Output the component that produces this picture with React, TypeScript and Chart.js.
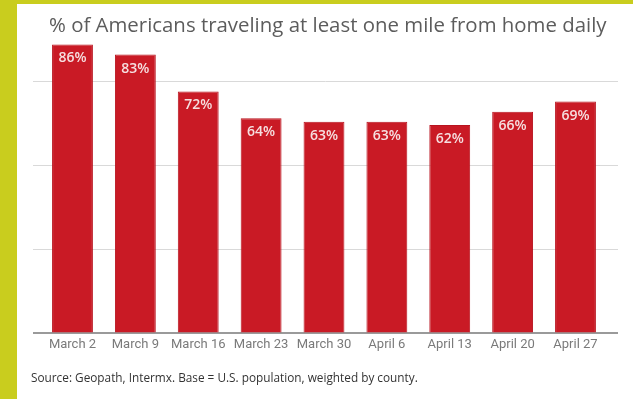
import React, { useEffect, useRef } from "react";
import { Chart, registerables } from "chart.js";

Chart.register(...registerables);

const categories = ["March 2", "March 9", "March 16", "March 23", "March 30", "April 6", "April 13", "April 20", "April 27"];
const values = [86, 83, 72, 64, 63, 63, 62, 66, 69];
const gridTicks = [0, 25, 50, 75];
const titleText = "% of Americans traveling at least one mile from home daily";
const sourceText = "Source: Geopath, Intermx. Base = U.S. population, weighted by county.";

const barColor = "#c91a25";

const labelPlugin = {
  id: "barLabels",
  afterDatasetsDraw(chart: any) {
    const ctx = chart.ctx;
    const meta = chart.getDatasetMeta(0);
    ctx.save();
    ctx.font = "600 14px 'Open Sans'";
    ctx.fillStyle = "#f6dfe0";
    ctx.textAlign = "center";
    ctx.textBaseline = "alphabetic";
    meta.data.forEach((bar: any, i: number) => {
      ctx.fillText(values[i] + "%", bar.x, bar.y + 18);
    });
    ctx.restore();
  },
};

export default function App() {
  const ref = useRef<HTMLCanvasElement | null>(null);

  useEffect(() => {
    document.body.style.margin = "0";
    if (!ref.current) return;
    const chart = new Chart(ref.current, {
      type: "bar",
      data: {
        datasets: [
          {
            data: values.map((v, i) => ({ x: i, y: v })),
            backgroundColor: barColor,
            borderColor: "#b8141f",
            borderWidth: 1,
            barPercentage: 0.65,
            categoryPercentage: 1,
          },
        ],
      },
      options: {
        animation: false,
        responsive: false,
        maintainAspectRatio: false,
        layout: { padding: { left: 33, right: 15, top: 31, bottom: 42 } },
        plugins: {
          legend: { display: false },
          title: { display: false },
          tooltip: { enabled: false },
        },
        scales: {
          x: {
            type: "linear",
            offset: false,
            min: -0.628,
            max: 8.676,
            afterBuildTicks: (scale: any) => {
              scale.ticks = categories.map((_, i) => ({ value: i }));
            },
            ticks: {
              callback: (v: any) => categories[Math.round(Number(v))],
              font: { family: "Roboto", size: 13 },
              color: "#7a7a7a",
              padding: 4,
              maxRotation: 0,
              autoSkip: false,
            },
            grid: { display: false, drawTicks: false, offset: false },
            border: { display: false },
          },
          y: {
            min: 0,
            max: 90,
            afterBuildTicks: (scale: any) => {
              scale.ticks = gridTicks.map((v) => ({ value: v }));
            },
            ticks: { display: false },
            grid: {
              drawTicks: false,
              color: (c: any) => (c.tick && c.tick.value === 0 ? "#9a9a9a" : "#d9d9d9"),
              lineWidth: (c: any) => (c.tick && c.tick.value === 0 ? 2 : 1),
            },
            border: { display: false },
          },
        },
      },
      plugins: [labelPlugin],
    });
    return () => chart.destroy();
  }, []);

  return (
    <div style={{ position: "fixed", left: 0, top: 0, width: 633, height: 399, background: "#c9cd1e", overflow: "hidden" }}>
      <div style={{ position: "absolute", left: 17, top: 4, right: 0, bottom: 0, background: "#ffffff" }} />
      <canvas ref={ref} width={633} height={399} style={{ position: "absolute", left: 0, top: 0, width: 633, height: 399 }} />
      <div
        style={{
          position: "absolute",
          left: 49,
          top: 14,
          fontFamily: "'Open Sans'",
          fontSize: 20.4,
          lineHeight: "20px",
          color: "#5c5c5c",
          whiteSpace: "nowrap",
        }}
      >
        {titleText}
      </div>
      <div
        style={{
          position: "absolute",
          left: 31,
          top: 371,
          fontFamily: "'Open Sans'",
          fontSize: 11.8,
          lineHeight: "12px",
          color: "#333333",
          whiteSpace: "nowrap",
        }}
      >
        {sourceText}
      </div>
    </div>
  );
}
